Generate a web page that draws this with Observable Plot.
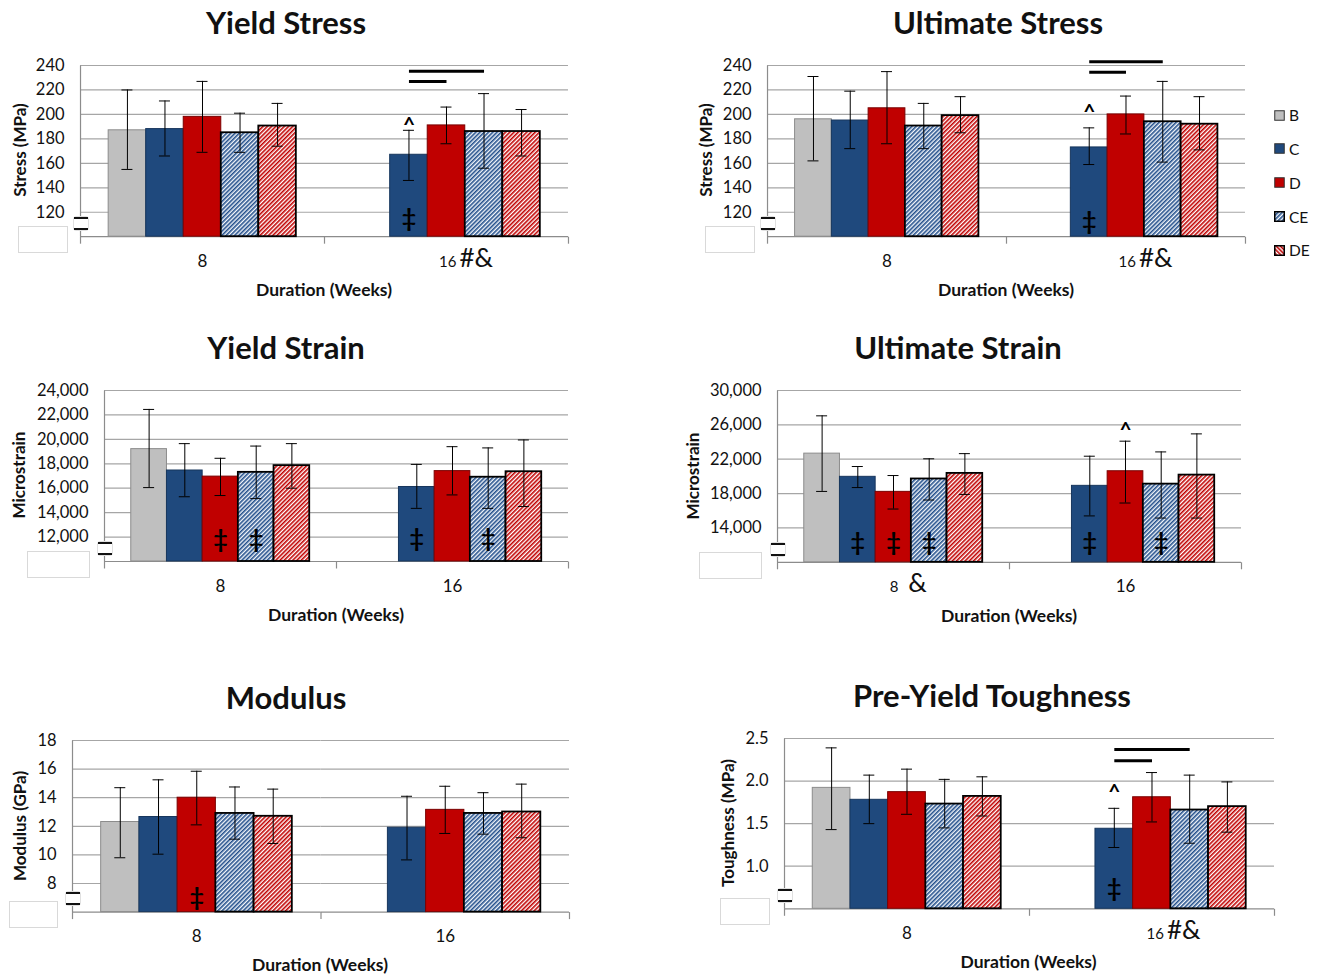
<!DOCTYPE html>
<html>
<head>
<meta charset="utf-8">
<script src="https://cdn.jsdelivr.net/npm/d3@7"></script>
<script src="https://cdn.jsdelivr.net/npm/@observablehq/plot@0.6"></script>
<style>
  body { margin: 0; background: #fff; }
  #page { position: relative; width: 1320px; height: 977px; overflow: hidden; background: #fff;
          font-family: Lato, "Open Sans", "DejaVu Sans", sans-serif; color: #111; }
  .abs { position: absolute; white-space: nowrap; }
  .title { font-weight: 700; font-size: 31px; transform: translate(-50%, -50%); }
  .ylab { font-weight: 700; font-size: 17px; transform: translate(-50%, -50%) rotate(-90deg); }
  .xlab { font-weight: 700; font-size: 17.5px; transform: translate(-50%, -50%); }
  .brk { background: #fff; border-radius: 3px; border: 1px solid #e0e0e0; box-sizing: border-box; }
  .brk::before, .brk::after { content: ""; position: absolute; left: 0px; right: 0px; height: 2px; background: #111; }
  .brk::before { top: 0; } .brk::after { bottom: 0; }
  .blank { background: #fff; border: 1px solid #d9d9d9; }
  .leg { font-size: 15.5px; display: flex; align-items: center; gap: 4px; transform: translateY(-50%); }
</style>
</head>
<body>
<svg width="0" height="0" style="position:absolute">
  <defs>
    <pattern id="hatchCE" patternUnits="userSpaceOnUse" width="3" height="3" patternTransform="rotate(45)">
      <rect width="3" height="3" fill="#f4f7fb"></rect>
      <rect width="1.6" height="3" fill="#24508c"></rect>
    </pattern>
    <pattern id="hatchDE" patternUnits="userSpaceOnUse" width="3" height="3" patternTransform="rotate(45)">
      <rect width="3" height="3" fill="#ffffff"></rect>
      <rect width="1.6" height="3" fill="#c00000"></rect>
    </pattern>
    <pattern id="hatchDEleg" patternUnits="userSpaceOnUse" width="3" height="3" patternTransform="rotate(-45)">
      <rect width="3" height="3" fill="#ffffff"></rect>
      <rect width="1.6" height="3" fill="#c00000"></rect>
    </pattern>
  </defs>
</svg>
<div id="page"></div>
<script>
// ---------------- data ----------------
const groups = ["B", "C", "D", "CE", "DE"];
const durations = ["8", "16"];

// [duration, group, mean, lower error, upper error]
const yieldStress = [
  ["8", "B", 187, 155, 220], ["8", "C", 188, 166, 211], ["8", "D", 198, 169, 227],
  ["8", "CE", 185, 169, 201], ["8", "DE", 190.5, 174, 209],
  ["16", "C", 167, 146, 187], ["16", "D", 191, 176, 206], ["16", "CE", 186, 156, 217], ["16", "DE", 186, 166, 204]
];
const ultimateStress = [
  ["8", "B", 196, 162, 231], ["8", "C", 195, 172, 219], ["8", "D", 205, 176, 235],
  ["8", "CE", 190.5, 172, 209], ["8", "DE", 199, 185, 214.5],
  ["16", "C", 173, 159, 189], ["16", "D", 200, 184, 215], ["16", "CE", 194, 161, 227], ["16", "DE", 192, 171, 214.5]
];
const yieldStrain = [
  ["8", "B", 19200, 16050, 22450], ["8", "C", 17450, 15300, 19650], ["8", "D", 16950, 15400, 18450],
  ["8", "CE", 17300, 15150, 19450], ["8", "DE", 17850, 16000, 19650],
  ["16", "C", 16100, 14350, 17950], ["16", "D", 17400, 15450, 19400], ["16", "CE", 16900, 14350, 19300], ["16", "DE", 17350, 14500, 19950]
];
const ultimateStrain = [
  ["8", "B", 22650, 18250, 27050], ["8", "C", 19950, 18700, 21150], ["8", "D", 18200, 16200, 20100],
  ["8", "CE", 19700, 17250, 22050], ["8", "DE", 20350, 17900, 22650],
  ["16", "C", 18900, 15400, 22350], ["16", "D", 20600, 16900, 24100], ["16", "CE", 19100, 15150, 22850], ["16", "DE", 20150, 15150, 24950]
];
const modulus = [
  ["8", "B", 12.3, 9.8, 14.7], ["8", "C", 12.65, 10.05, 15.25], ["8", "D", 14.0, 12.1, 15.85],
  ["8", "CE", 12.9, 11.1, 14.75], ["8", "DE", 12.7, 10.8, 14.6],
  ["16", "C", 11.9, 9.65, 14.1], ["16", "D", 13.15, 11.5, 14.8], ["16", "CE", 12.9, 11.45, 14.35], ["16", "DE", 13.0, 11.2, 14.95]
];
const toughness = [
  ["8", "B", 1.92, 1.43, 2.39], ["8", "C", 1.78, 1.50, 2.07], ["8", "D", 1.87, 1.61, 2.14],
  ["8", "CE", 1.73, 1.45, 2.02], ["8", "DE", 1.82, 1.59, 2.05],
  ["16", "C", 1.44, 1.22, 1.68], ["16", "D", 1.81, 1.52, 2.10], ["16", "CE", 1.66, 1.27, 2.07], ["16", "DE", 1.70, 1.40, 1.99]
];

// significance brackets: [duration, from group, to group, level]
const yieldStressSig = [["16", "C", "CE", 235.3], ["16", "C", "D", 227]];
const ultimateStressSig = [["16", "C", "CE", 243], ["16", "C", "D", 234.4]];
const toughnessSig = [["16", "C", "CE", 2.37], ["16", "C", "D", 2.24]];

// symbols: [duration, group, symbol, level]
const yieldStressMarks = [["16", "C", "^", 195], ["16", "C", "‡", 114.5]];
const ultimateStressMarks = [["16", "C", "^", 205.5], ["16", "C", "‡", 112]];
const yieldStrainMarks = [["8", "D", "‡", 11800], ["8", "CE", "‡", 11800], ["16", "C", "‡", 11850], ["16", "CE", "‡", 11850]];
const ultimateStrainMarks = [["8", "C", "‡", 12200], ["8", "D", "‡", 12200], ["8", "CE", "‡", 12200],
  ["16", "C", "‡", 12200], ["16", "CE", "‡", 12200], ["16", "D", "^", 25900]];
const modulusMarks = [["8", "D", "‡", 7.0]];
const toughnessMarks = [["16", "C", "^", 1.93], ["16", "C", "‡", 0.73]];

// category tick labels: [duration, label, suffix]
const stressTicks = [["8", "8", ""], ["16", "16", "#&"]];
const yieldStrainTicks = [["8", "8", ""], ["16", "16", ""]];
const ultimateStrainTicks = [["8", "8", "\u00A0&"], ["16", "16", ""]];
const modulusTicks = [["8", "8", ""], ["16", "16", ""]];
const toughnessTicks = [["8", "8", ""], ["16", "16", "#&"]];

const stressAxis = [120, 140, 160, 180, 200, 220, 240];
const yieldStrainAxis = [12000, 14000, 16000, 18000, 20000, 22000, 24000];
const ultimateStrainAxis = [14000, 18000, 22000, 26000, 30000];
const modulusAxis = [8, 10, 12, 14, 16, 18];
const toughnessAxis = [1.0, 1.5, 2.0, 2.5];

// ---------------- styles ----------------
const fills = {B: "#bfbfbf", C: "#1f497d", D: "#c00000", CE: "url(#hatchCE)", DE: "url(#hatchDE)"};
const strokes = {B: "#8c8c8c", C: "#17365d", D: "#7a0000", CE: "#000", DE: "#000"};
const strokeWidths = {B: 1, C: 1, D: 1, CE: 1.8, DE: 1.8};

const page = document.getElementById("page");
function addDiv(cls, text, left, top, extra) {
  const d = document.createElement("div");
  d.className = "abs " + cls;
  if (text != null) d.textContent = text;
  d.style.left = left + "px";
  d.style.top = top + "px";
  if (extra) Object.assign(d.style, extra);
  page.appendChild(d);
  return d;
}

function drawPanel(cfg) {
  const {rows, sig = [], marks = [], ticksX, axis, fmt, domain, x0, x1, yTop, yBot} = cfg;
  const mL = 100, mR = 20, mT = 30, mB = 50;
  const fw = x1 - x0, fh = yBot - yTop;
  const step = fw / 2 / 6.5;
  const unit = (domain[1] - domain[0]) / fh;
  const cap = (step - 11) / 2;
  const data = rows.map(([dur, grp, mean, lo, hi]) => ({dur, grp, mean, lo, hi}));
  const sigData = sig.map(([dur, from, to, y]) => ({dur, from, to, y}));
  const markData = marks.map(([dur, grp, sym, y]) => ({dur, grp, sym, y}));
  const tickData = ticksX.map(([dur, label, suffix]) => ({dur, label, suffix}));
  const base = domain[0];

  const barMarks = groups.map(g => Plot.barY(data.filter(d => d.grp === g), {
    fx: "dur", x: "grp", y1: () => base, y2: "mean",
    fill: fills[g], stroke: strokes[g], strokeWidth: strokeWidths[g]
  }));

  const plot = Plot.plot({
    width: mL + fw + mR, height: mT + fh + mB,
    marginLeft: mL, marginRight: mR, marginTop: mT, marginBottom: mB,
    style: {background: "transparent", overflow: "visible", fontFamily: "Lato, 'DejaVu Sans', sans-serif",
            fontSize: "16.5px", color: "#111"},
    fx: {domain: durations, padding: 0, axis: null, round: false, label: null},
    x: {domain: groups, paddingInner: 0, paddingOuter: 0.75, axis: null, round: false},
    y: {domain, ticks: axis, tickFormat: fmt, tickSize: 0, tickPadding: 16, label: null},
    marks: [
      Plot.ruleY(axis, {stroke: "#a6a6a6", strokeWidth: 1.2}),
      Plot.ruleY([base], {stroke: "#8c8c8c", strokeWidth: 1.2}),
      // left axis line
      Plot.link([durations[0]], {fx: d => d, x1: () => groups[0], x2: () => groups[0],
        y1: () => base, y2: () => domain[1], dx: -1.25 * step, stroke: "#8c8c8c", strokeWidth: 1.2}),
      // category boundary ticks
      Plot.link(durations, {fx: d => d, x1: () => groups[0], x2: () => groups[0],
        y1: () => base, y2: () => base - 7 * unit, dx: -1.25 * step, stroke: "#8c8c8c", strokeWidth: 1.2}),
      Plot.link([durations[1]], {fx: d => d, x1: () => groups[4], x2: () => groups[4],
        y1: () => base, y2: () => base - 7 * unit, dx: 1.25 * step, stroke: "#8c8c8c", strokeWidth: 1.2}),
      ...barMarks,
      Plot.ruleX(data, {fx: "dur", x: "grp", y1: "lo", y2: "hi", stroke: "#000", strokeWidth: 1}),
      Plot.tickY(data, {fx: "dur", x: "grp", y: "hi", insetLeft: cap, insetRight: cap, stroke: "#000", strokeWidth: 1}),
      Plot.tickY(data, {fx: "dur", x: "grp", y: "lo", insetLeft: cap, insetRight: cap, stroke: "#000", strokeWidth: 1}),
      Plot.link(sigData, {fx: "dur", x1: "from", x2: "to", y1: "y", y2: "y", stroke: "#000", strokeWidth: 3}),
      Plot.text(markData.filter(d => d.sym === "^"), {fx: "dur", x: "grp", y: "y", text: "sym",
        fontSize: 21, fontWeight: "bold", dy: 5, fill: "#000"}),
      Plot.text(markData.filter(d => d.sym === "‡"), {fx: "dur", x: "grp", y: "y", text: "sym",
        fontSize: 25, fontWeight: "bold", fill: "#000"}),
      Plot.text(tickData.filter(d => !d.suffix), {fx: "dur", text: "label", frameAnchor: "bottom",
        lineAnchor: "bottom", dy: 30, fontSize: 17, fill: "#111"}),
      Plot.text(tickData.filter(d => d.suffix), {fx: "dur", text: "label", frameAnchor: "bottom",
        lineAnchor: "bottom", textAnchor: "end", dy: 30, dx: cfg.mainDx, fontSize: 15, fill: "#111"}),
      Plot.text(tickData.filter(d => d.suffix), {fx: "dur", text: "suffix", frameAnchor: "bottom",
        lineAnchor: "bottom", textAnchor: "start", dy: 30, dx: cfg.mainDx + 3, fontSize: 26, fill: "#111"})
    ]
  });
  plot.style.position = "absolute";
  plot.style.left = (x0 - mL) + "px";
  plot.style.top = (yTop - mT) + "px";
  plot.style.maxWidth = "none";
  page.appendChild(plot);

  addDiv("title", cfg.title, cfg.titleX, cfg.titleY);
  addDiv("ylab", cfg.ylab, cfg.ylabX, (yTop + yBot) / 2 + cfg.ylabDy);
  addDiv("xlab", "Duration (Weeks)", (x0 + x1) / 2, yBot + 53);
  addDiv("blank", null, x0 - cfg.blankDx, yBot - 10, {width: cfg.blankW + "px", height: "25px"});
  addDiv("brk", null, x0 - 7, yBot - 20, {width: "16px", height: "15px"});
}

drawPanel({title: "Yield Stress", titleX: 286, titleY: 22, ylab: "Stress (MPa)", ylabX: 19, ylabDy: 0,
  rows: yieldStress, sig: yieldStressSig, marks: yieldStressMarks, ticksX: stressTicks, mainDx: 10,
  axis: stressAxis, fmt: d3.format("d"), domain: [100, 240], x0: 80, x1: 568, yTop: 64.5, yBot: 235.7,
  blankDx: 62, blankW: 48});
drawPanel({title: "Ultimate Stress", titleX: 998, titleY: 22, ylab: "Stress (MPa)", ylabX: 705, ylabDy: 0,
  rows: ultimateStress, sig: ultimateStressSig, marks: ultimateStressMarks, ticksX: stressTicks, mainDx: 10,
  axis: stressAxis, fmt: d3.format("d"), domain: [100, 240], x0: 767, x1: 1245, yTop: 64.5, yBot: 235.7,
  blankDx: 62, blankW: 48});
drawPanel({title: "Yield Strain", titleX: 286, titleY: 347, ylab: "Microstrain", ylabX: 18, ylabDy: 0,
  rows: yieldStrain, marks: yieldStrainMarks, ticksX: yieldStrainTicks, mainDx: 10,
  axis: yieldStrainAxis, fmt: d3.format(","), domain: [10000, 24000], x0: 104, x1: 568, yTop: 389.7, yBot: 560.7,
  blankDx: 77, blankW: 61});
drawPanel({title: "Ultimate Strain", titleX: 958, titleY: 347, ylab: "Microstrain", ylabX: 692, ylabDy: 0,
  rows: ultimateStrain, marks: ultimateStrainMarks, ticksX: ultimateStrainTicks, mainDx: 5,
  axis: ultimateStrainAxis, fmt: d3.format(","), domain: [10000, 30000], x0: 777, x1: 1241, yTop: 389.7, yBot: 561.5,
  blankDx: 78, blankW: 61});
drawPanel({title: "Modulus", titleX: 286, titleY: 697, ylab: "Modulus (GPa)", ylabX: 19, ylabDy: 0,
  rows: modulus, marks: modulusMarks, ticksX: modulusTicks, mainDx: 10,
  axis: modulusAxis, fmt: d3.format("d"), domain: [6, 18], x0: 71.5, x1: 568.5, yTop: 739.7, yBot: 911.3,
  blankDx: 63, blankW: 47});
drawPanel({title: "Pre-Yield Toughness", titleX: 992, titleY: 695, ylab: "Toughness (MPa)", ylabX: 727, ylabDy: 0,
  rows: toughness, sig: toughnessSig, marks: toughnessMarks, ticksX: toughnessTicks, mainDx: 12,
  axis: toughnessAxis, fmt: d3.format(".1f"), domain: [0.5, 2.5], x0: 783.5, x1: 1273.5, yTop: 737.7, yBot: 908,
  blankDx: 64, blankW: 48});

// legend
const legendFills = {B: "#bfbfbf", C: "#1f497d", D: "#c00000", CE: "url(#hatchCE)", DE: "url(#hatchDEleg)"};
const legendY = [115, 148.5, 182.5, 216.5, 250];
groups.forEach((g, i) => {
  const d = addDiv("leg", null, 1274, legendY[i]);
  d.innerHTML = `<svg width="11" height="11"><rect x="0.75" y="0.75" width="9.5" height="9.5" fill="${legendFills[g]}" stroke="${g === "CE" || g === "DE" ? "#000" : "#333"}" stroke-width="${g === "CE" || g === "DE" ? 1.5 : 1}"></rect></svg><span>${g}</span>`;
});
</script>
</body>
</html>
